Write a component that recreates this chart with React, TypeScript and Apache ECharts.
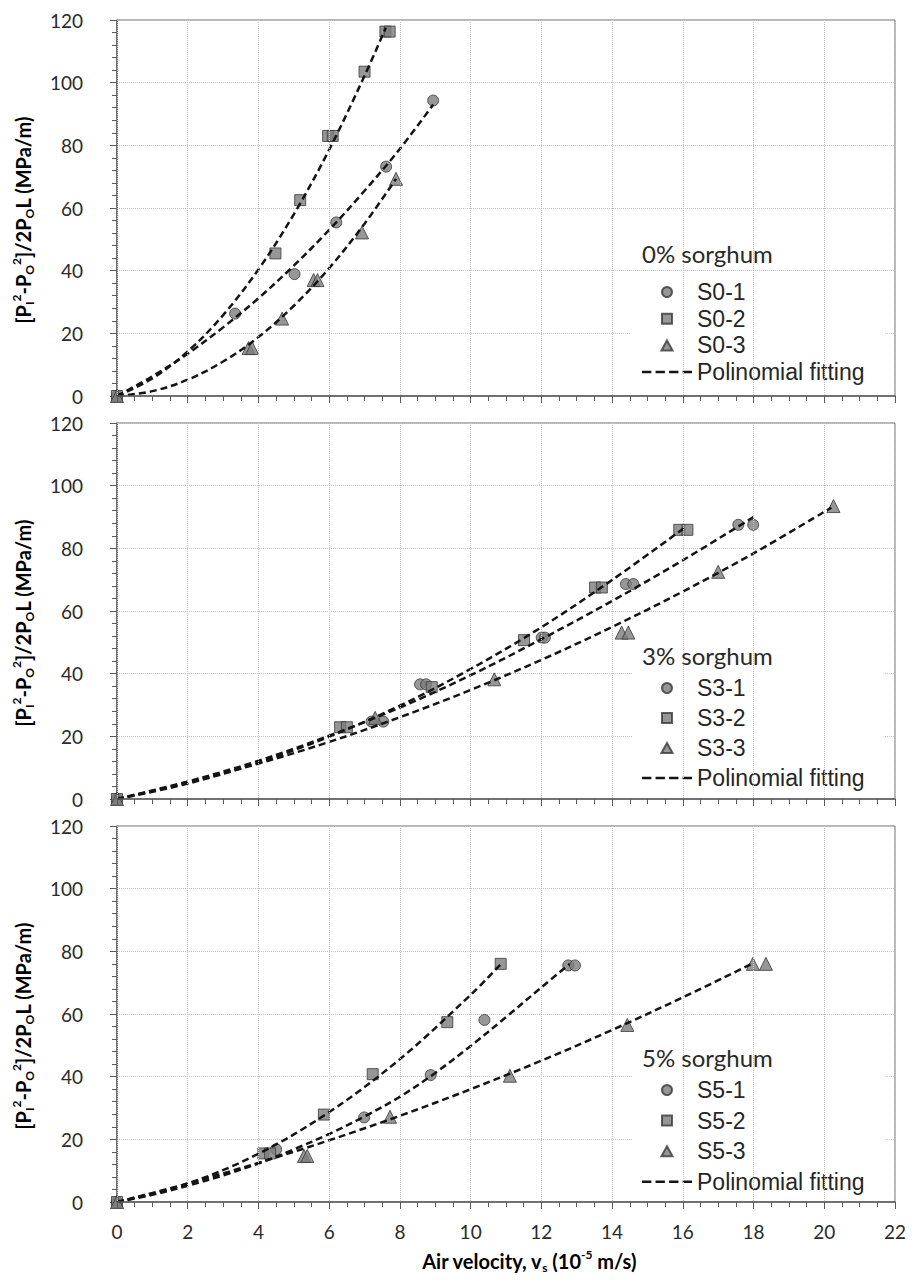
import React, { useEffect, useRef } from "react";
import * as echarts from "echarts";

// ---------- data ----------
// x: air velocity (10^-5 m/s), y: [Pi^2-Po^2]/2PoL (MPa/m)
const X_TICK_MIN = 0;
const X_TICK_MAX = 22;
const X_TICK_STEP = 2;
const Y_TICK_MIN = 0;
const Y_TICK_MAX = 120;
const Y_TICK_STEP = 20;

const panelTitles = ["0% sorghum", "3% sorghum", "5% sorghum"];
const seriesNames = [
  ["S0-1", "S0-2", "S0-3"],
  ["S3-1", "S3-2", "S3-3"],
  ["S5-1", "S5-2", "S5-3"],
];
const fitName = "Polinomial fitting";

// 0% sorghum
const s0_1 = [[0, 0], [3.34, 26.3], [5.02, 38.9], [6.2, 55.4], [7.61, 73.2], [8.94, 94.3]];
const s0_2 = [[0, 0], [4.48, 45.5], [5.18, 62.5], [5.97, 83], [6.1, 83], [7.0, 103.5], [7.59, 116.3], [7.71, 116.3]];
const s0_3 = [[0, 0], [3.72, 15.3], [3.82, 15.3], [4.67, 24.7], [5.56, 37], [5.67, 37], [6.93, 52.2], [7.89, 69.3]];
const fit0_1 = [[0, 0], [1, 6.3], [2, 13.5], [3, 21.9], [4, 31.2], [5, 41.6], [6, 53], [7, 65.5], [8, 78.9], [8.94, 93]];
const fit0_2 = [[0, 0], [1, 5.6], [2, 14.2], [3, 25.8], [4, 40.4], [5, 58], [6, 78.6], [7, 102.2], [7.6, 117.5]];
const fit0_3 = [[0, 0], [1, 1.55], [2, 5.2], [3, 11], [4, 18.8], [5, 28.8], [6, 40.8], [7, 55], [7.89, 69.3]];

// 3% sorghum
const s3_1 = [[0, 0], [7.2, 24.7], [7.53, 24.7], [8.57, 36.6], [8.74, 36.6], [12.01, 51.5], [12.1, 51.5], [14.39, 68.6], [14.6, 68.6], [17.57, 87.5], [17.99, 87.5]];
const s3_2 = [[0, 0], [6.31, 22.9], [6.5, 22.9], [8.9, 35.7], [11.51, 50.7], [13.52, 67.5], [13.71, 67.5], [15.9, 85.9], [16.13, 85.9]];
const s3_3 = [[0, 0], [7.3, 25.9], [10.67, 38.2], [14.27, 53.1], [14.46, 53.1], [17.0, 72.5], [20.26, 93.5]];
const fit3_1 = [[0, 0], [2, 5.6], [4, 12.2], [6, 20.2], [8, 29.2], [10, 39.5], [12, 51], [14, 63.2], [16, 76.2], [18, 90]];
const fit3_2 = [[0, 0], [2, 4.9], [4, 11.6], [6, 19.9], [8, 29.8], [10, 41.5], [12, 54.8], [14, 69.9], [16.1, 87]];
const fit3_3 = [[0, 0], [2, 5.2], [4, 11.3], [6, 18.2], [8, 26.1], [10, 34.8], [12, 44.4], [14, 54.9], [16, 66.2], [18, 78.4], [20.2, 93]];

// 5% sorghum
const s5_1 = [[0, 0], [4.5, 16.8], [6.99, 27], [8.87, 40.5], [10.39, 58.1], [12.76, 75.5], [12.95, 75.5]];
const s5_2 = [[0, 0], [4.14, 15.5], [4.33, 15.5], [5.85, 27.9], [7.23, 40.8], [9.34, 57.4], [10.85, 76]];
const s5_3 = [[0, 0], [5.29, 14.7], [5.38, 14.7], [7.72, 27.2], [11.11, 40.3], [14.43, 56.5], [17.98, 76], [18.35, 76]];
const fit5_1 = [[0, 0], [1, 2.3], [2, 5.2], [3, 8.5], [4, 12.3], [5, 16.8], [6, 21.7], [7, 27.3], [8, 33.6], [9, 41.2], [10, 49.8], [11, 59], [12, 68.5], [12.8, 76]];
const fit5_2 = [[0, 0], [2, 5.9], [4, 15.4], [6, 28.7], [8, 45.6], [10, 66.1], [10.85, 75.9]];
const fit5_3 = [[0, 0], [2, 5.9], [4, 12.5], [6, 19.7], [8, 27.5], [10, 36], [12, 45.1], [14, 54.9], [16, 65.3], [18, 76.3]];

const pointSets = [
  [s0_1, s0_2, s0_3],
  [s3_1, s3_2, s3_3],
  [s5_1, s5_2, s5_3],
];
const fitSets = [
  [fit0_1, fit0_2, fit0_3],
  [fit3_1, fit3_2, fit3_3],
  [fit5_1, fit5_2, fit5_3],
];

// ---------- layout / style ----------
const W = 912;
const H = 1282;
const GRID_LEFT = 117;
const GRID_WIDTH = 778;
const gridTops = [20, 423, 826];
const GRID_HEIGHT = 376;
const symbols = ["circle", "rect", "triangle"];
const symbolSizes = [11, 11, 13];
const legendIcons = [
  "circle",
  "path://M0,0H10V10H0Z",
  "path://M5,0L10,9L0,9Z",
];
const dashIcon = "path://M0,0H9V2.4H0ZM13,0H22V2.4H13ZM26,0H35V2.4H26ZM39,0H48V2.4H39Z";
const legendTops = [275, 668, 1075];
const legendPads = [
  [5.5, 20, 9, 12],
  [8.5, 20, 6, 9],
  [3.5, 20, 7, 9],
];
const legendLefts = [630, 633, 633];
const legendGaps = [3.7, 7, 7.6];
const titleYs = [253, 655, 1057];

const AXIS_COLOR = "#5a5a5a";
const TEXT_COLOR = "#2a2a2a";
const LATO = "Lato, 'Open Sans', sans-serif";
const ARIAL = "'Liberation Sans', Arial, sans-serif";

const subSupRich = {
  b: { fontFamily: LATO, fontWeight: "bold", fontSize: 20, lineHeight: 25, color: TEXT_COLOR, verticalAlign: "middle" },
  sb: { fontFamily: LATO, fontWeight: "bold", fontSize: 12, lineHeight: 12, color: TEXT_COLOR, verticalAlign: "bottom" },
  sp: { fontFamily: LATO, fontWeight: "bold", fontSize: 12, lineHeight: 12, color: TEXT_COLOR, verticalAlign: "top" },
};

export default function App() {
  const ref = useRef<HTMLDivElement>(null);

  useEffect(() => {
    if (!ref.current) return;
    const chart = echarts.init(ref.current, null, { renderer: "svg" });

    const grids = gridTops.map((top) => ({
      left: GRID_LEFT,
      top,
      width: GRID_WIDTH,
      height: GRID_HEIGHT,
      show: true,
      borderColor: "#6a6a6a",
      borderWidth: 1,
      backgroundColor: "transparent",
    }));

    const xAxes = gridTops.map((_, i) => ({
      type: "value",
      gridIndex: i,
      min: X_TICK_MIN,
      max: X_TICK_MAX,
      interval: X_TICK_STEP,
      axisLine: { show: true, onZero: false, lineStyle: { color: AXIS_COLOR, width: 1.5 } },
      axisTick: { show: true, length: 7, lineStyle: { color: AXIS_COLOR, width: 1 } },
      minorTick: { show: true, splitNumber: 4, length: 5, lineStyle: { color: AXIS_COLOR, width: 1 } },
      axisLabel: {
        show: i === 2,
        margin: 20,
        fontFamily: LATO,
        fontSize: 19,
        color: TEXT_COLOR,
      },
      splitLine: { show: true, lineStyle: { color: "#c4c4c4", type: "dotted", width: 1 } },
      z: 5,
    }));

    const yAxes = gridTops.map((_, i) => ({
      type: "value",
      gridIndex: i,
      min: Y_TICK_MIN,
      max: Y_TICK_MAX,
      interval: Y_TICK_STEP,
      axisLine: { show: true, onZero: false, lineStyle: { color: AXIS_COLOR, width: 1.5 } },
      axisTick: { show: true, length: 7, lineStyle: { color: AXIS_COLOR, width: 1 } },
      minorTick: { show: true, splitNumber: 5, length: 5, lineStyle: { color: AXIS_COLOR, width: 1 } },
      axisLabel: { margin: 34, fontFamily: LATO, fontSize: 19, color: TEXT_COLOR },
      splitLine: { show: true, lineStyle: { color: "#c4c4c4", type: "dotted", width: 1 } },
    }));

    const series: any[] = [];
    pointSets.forEach((sets, p) => {
      sets.forEach((data, k) => {
        series.push({
          type: "scatter",
          name: seriesNames[p][k],
          data,
          symbol: symbols[k],
          symbolSize: symbolSizes[k],
          xAxisIndex: p,
          yAxisIndex: p,
          itemStyle: { color: "#7d7d7d", borderColor: "#383838", borderWidth: 1 },
          z: 3,
        });
      });
    });
    fitSets.forEach((sets, p) => {
      sets.forEach((data) => {
        series.push({
          type: "line",
          name: fitName,
          data,
          smooth: 0.35,
          symbol: "none",
          showSymbol: false,
          xAxisIndex: p,
          yAxisIndex: p,
          itemStyle: { color: "#141414" },
          lineStyle: { color: "#141414", width: 2.5, type: [7, 4] },
          z: 4,
        });
      });
    });

    const legends = gridTops.map((_, p) => ({
      orient: "vertical",
      left: legendLefts[p],
      top: legendTops[p],
      padding: legendPads[p],
      itemWidth: 50,
      itemHeight: 10,
      itemGap: legendGaps[p],
      selectedMode: false,
      symbolKeepAspect: true,
      backgroundColor: "#ffffff",
      data: [
        ...seriesNames[p].map((name, k) => ({ name, icon: legendIcons[k] })),
        { name: fitName, icon: dashIcon, itemStyle: { color: "#141414", borderWidth: 0 } },
      ],
      textStyle: { fontFamily: ARIAL, fontSize: 23, color: "#262626" },
    }));

    const graphics: any[] = [];
    panelTitles.forEach((t, p) => {
      graphics.push({
        type: "text",
        x: 642,
        y: titleYs[p],
        z: 10,
        style: {
          text: t,
          fontFamily: LATO,
          fontSize: 24,
          fill: TEXT_COLOR,
          align: "left",
          verticalAlign: "middle",
        },
      });
      graphics.push({
        type: "text",
        x: 23,
        y: gridTops[p] + GRID_HEIGHT / 2 + 12,
        rotation: Math.PI / 2,
        z: 10,
        style: {
          text: "{b|[P}{sb|I}{sp|2}{b|-P}{sb|O}{sp|2}{b|]/2P}{sb|O}{b|L (MPa/m)}",
          rich: subSupRich,
          align: "center",
          verticalAlign: "middle",
        },
      });
    });
    graphics.push({
      type: "text",
      x: 529,
      y: 1261,
      z: 10,
      style: {
        text: "{b|Air velocity, v}{sb|s}{b| (10}{sp|-5}{b| m/s)}",
        rich: subSupRich,
        align: "center",
        verticalAlign: "middle",
      },
    });

    chart.setOption({
      animation: false,
      backgroundColor: "#ffffff",
      grid: grids,
      xAxis: xAxes,
      yAxis: yAxes,
      legend: legends,
      series,
      graphic: graphics,
    });

    return () => chart.dispose();
  }, []);

  return (
    <div
      ref={ref}
      style={{ position: "absolute", left: 0, top: 0, width: W, height: H, background: "#fff" }}
    />
  );
}
